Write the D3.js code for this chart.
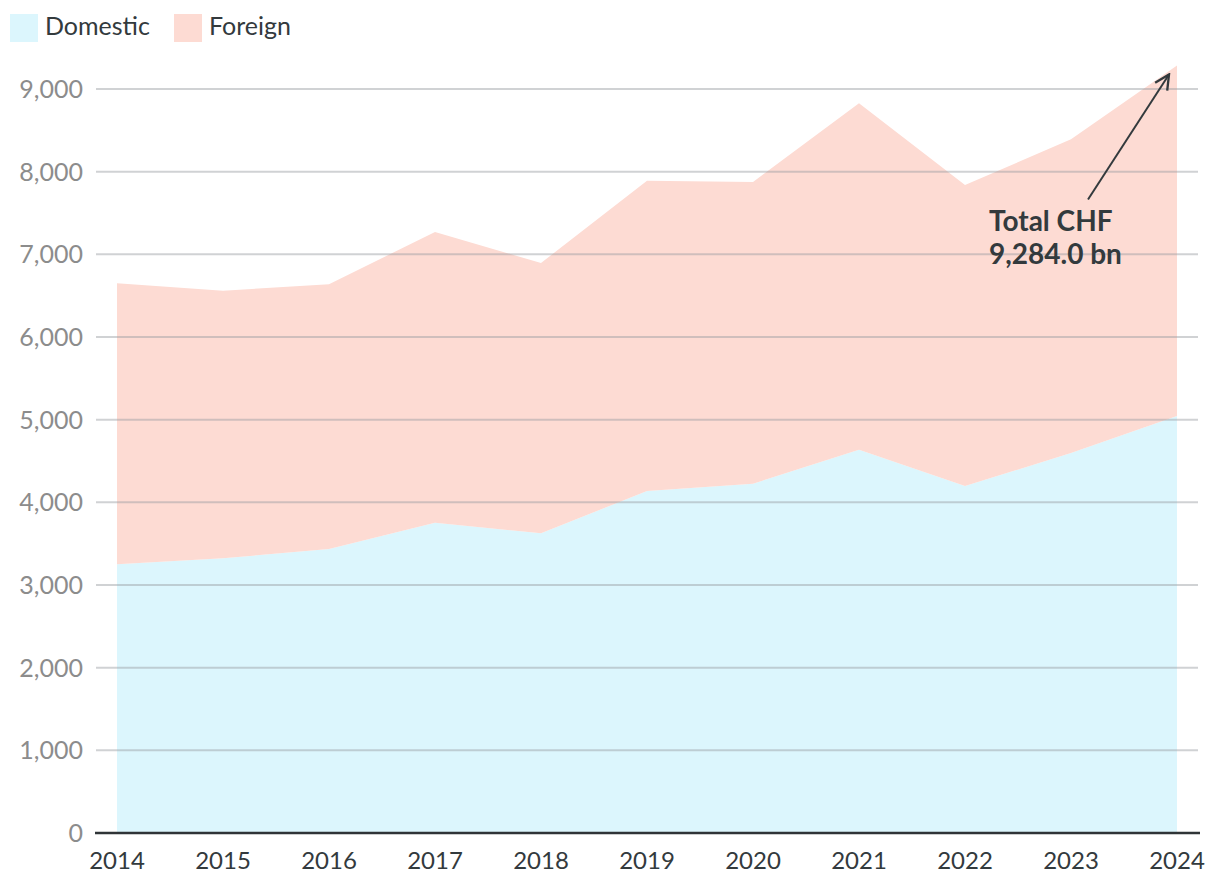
<!DOCTYPE html>
<html>
<head>
<meta charset="utf-8">
<script src="https://cdn.jsdelivr.net/npm/d3@7"></script>
<style>
    body { margin: 0; background: #fff; font-family: Lato, "Open Sans", sans-serif; }
    .grid line { stroke: rgba(150, 155, 160, 0.45); stroke-width: 2; }
    .y-label { fill: #8c8c8c; font-size: 25px; }
    .x-label { fill: #333a3d; font-size: 24px; }
    .legend-text { fill: #333a3d; font-size: 25px; }
    .note { fill: #333a3d; font-size: 28px; font-weight: bold; }
</style>
</head>
<body>
<div id="chart"></div>
<script>
const years = [2014, 2015, 2016, 2017, 2018, 2019, 2020, 2021, 2022, 2023, 2024]
const domestic = [3250, 3323, 3435, 3754, 3625, 4137, 4226, 4637, 4197, 4597, 5044]
const total = [6649, 6560, 6639, 7270, 6895, 7891, 7875, 8827, 7838, 8391, 9284]
const yTicks = [0, 1000, 2000, 3000, 4000, 5000, 6000, 7000, 8000, 9000]
const seriesNames = ['Domestic', 'Foreign']
const seriesColors = ['#dcf6fd', '#fddbd3']

const foreign = total.map((t, i) => t - domestic[i])
const rows = years.map((y, i) => ({year: y, Domestic: domestic[i], Foreign: foreign[i]}))

const dimensions = {
    width: 1220,
    height: 882,
    margin: {top: 89, right: 43, bottom: 49, left: 117},
}
dimensions.boundedWidth = dimensions.width - dimensions.margin.left - dimensions.margin.right
dimensions.boundedHeight = dimensions.height - dimensions.margin.top - dimensions.margin.bottom

const svg = d3.select('#chart')
    .append('svg')
    .attr('width', dimensions.width)
    .attr('height', dimensions.height)

const bounds = svg.append('g')
    .attr('transform', `translate(${dimensions.margin.left}, ${dimensions.margin.top})`)

const xScale = d3.scaleLinear()
    .domain(d3.extent(years))
    .range([0, dimensions.boundedWidth])

const yScale = d3.scaleLinear()
    .domain([0, 9000])
    .range([dimensions.boundedHeight, 0])

const stacked = d3.stack().keys(seriesNames)(rows)

const areaGenerator = d3.area()
    .x(d => xScale(d.data.year))
    .y0(d => yScale(d[0]))
    .y1(d => yScale(d[1]))

bounds.selectAll('.area')
    .data(stacked)
    .enter().append('path')
    .attr('class', 'area')
    .attr('d', areaGenerator)
    .attr('fill', (d, i) => seriesColors[i])

// gridlines on top of the areas
const grid = bounds.append('g').attr('class', 'grid')
grid.selectAll('line')
    .data(yTicks.filter(t => t > 0))
    .enter().append('line')
    .attr('x1', -21)
    .attr('x2', dimensions.boundedWidth + 21)
    .attr('y1', d => yScale(d))
    .attr('y2', d => yScale(d))

bounds.append('line')
    .attr('x1', -22)
    .attr('x2', dimensions.boundedWidth + 23)
    .attr('y1', yScale(0))
    .attr('y2', yScale(0))
    .attr('stroke', '#2f3437')
    .attr('stroke-width', 2.5)

bounds.selectAll('.y-label')
    .data(yTicks)
    .enter().append('text')
    .attr('class', 'y-label')
    .attr('x', -34)
    .attr('y', d => yScale(d) + 9)
    .attr('text-anchor', 'end')
    .text(d => d3.format(',')(d))

bounds.selectAll('.x-label')
    .data(years)
    .enter().append('text')
    .attr('class', 'x-label')
    .attr('x', d => xScale(d))
    .attr('y', yScale(0) + 36)
    .attr('text-anchor', 'middle')
    .text(d => d)

// legend
const legend = svg.append('g').attr('transform', 'translate(10, 14)')
const legendX = [0, 164]
seriesNames.forEach((name, i) => {
    legend.append('rect')
        .attr('x', legendX[i])
        .attr('width', 28)
        .attr('height', 28)
        .attr('fill', seriesColors[i])
    legend.append('text')
        .attr('class', 'legend-text')
        .attr('x', legendX[i] + 35)
        .attr('y', 21)
        .text(name)
})

// annotation
const lastYear = years[years.length - 1]
const lastTotal = total[total.length - 1]
const tipX = xScale(lastYear) - 8
const tipY = yScale(lastTotal) + 9

const defs = svg.append('defs')
defs.append('marker')
    .attr('id', 'arrow')
    .attr('viewBox', '0 0 10 10')
    .attr('refX', 9)
    .attr('refY', 5)
    .attr('markerWidth', 9)
    .attr('markerHeight', 9)
    .attr('orient', 'auto')
    .append('path')
    .attr('d', 'M1,1 L9,5 L1,9')
    .attr('fill', 'none')
    .attr('stroke', '#333a3d')
    .attr('stroke-width', 1.3)

bounds.append('line')
    .attr('x1', tipX - 81)
    .attr('y1', tipY + 125)
    .attr('x2', tipX)
    .attr('y2', tipY)
    .attr('stroke', '#333a3d')
    .attr('stroke-width', 2)
    .attr('marker-end', 'url(#arrow)')

const note = bounds.append('text')
    .attr('class', 'note')
    .attr('x', tipX - 180)
    .attr('y', tipY + 156)
note.append('tspan').text('Total CHF')
note.append('tspan')
    .attr('x', tipX - 180)
    .attr('dy', 33)
    .text(`${d3.format(',.1f')(lastTotal)} bn`)
</script>
</body>
</html>
